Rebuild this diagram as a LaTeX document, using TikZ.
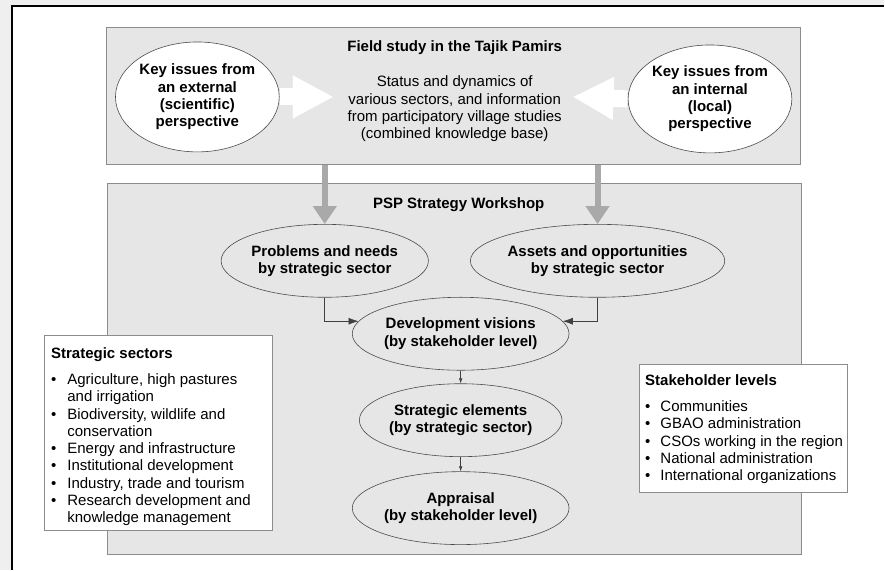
\documentclass[tikz,border=0pt]{standalone}
\usepackage{fontspec}
\setmainfont{Liberation Sans}
\usetikzlibrary{shapes.geometric,arrows.meta}
\definecolor{pagegray}{HTML}{EFEFEF}
\definecolor{panelgray}{HTML}{E6E6E6}
\definecolor{edgegray}{HTML}{8C8C8C}
\definecolor{flowgray}{HTML}{A9A9A9}
\newcommand{\txt}{\fontsize{15}{17.3}\selectfont}
\begin{document}
\begin{tikzpicture}[x=1pt,y=-1pt,font=\txt,
  panel/.style={draw=edgegray,fill=panelgray,line width=0.9pt,inner sep=0pt,anchor=north west},
  listbox/.style={draw=edgegray,fill=white,line width=0.9pt,inner sep=0pt,anchor=north west},
  issue/.style={ellipse,draw=black!70,fill=white,line width=0.6pt,inner sep=0pt,align=center,font=\txt\bfseries},
  stage/.style={ellipse,draw=black!70,line width=0.6pt,inner sep=0pt,align=center,font=\txt\bfseries,minimum height=73pt},
  feed/.style={draw=white,line width=17pt,shorten <=0.5pt,-{Triangle[length=41pt,width=40pt]}},
  drop/.style={draw=flowgray,line width=6pt,-{Triangle[length=18pt,width=23pt]}},
  link/.style={draw=black!75,line width=0.6pt,-{Latex[length=10pt,width=7pt]}},
  chain/.style={draw=black!75,line width=0.6pt,-{Latex[length=5pt,width=3.5pt]}}]

  \fill[pagegray] (0,0) rectangle (885,570);
  \fill[white] (12,6) rectangle (885,570);
  \draw[line width=1.3pt] (12,570) -- (12,6) -- (885,6);

  \node[panel,minimum width=695pt,minimum height=137pt] (field) at (106,27) {};
  \node[panel,minimum width=695pt,minimum height=371pt] (workshop) at (107,183) {};

  \node[font=\txt\bfseries] (fieldtitle) at (455,48) {Field study in the Tajik Pamirs};
  \node[align=center] (fieldtext) at (455,109) {Status and dynamics of\\various sectors, and information\\from participatory village studies\\(combined knowledge base)};
  \node[issue,minimum width=145pt,minimum height=110pt] (extern) at (197.5,97) {Key issues from\\an external\\(scientific)\\perspective};
  \node[issue,minimum width=145pt,minimum height=108pt] (intern) at (710.5,99) {Key issues from\\an internal\\(local)\\perspective};
  \coordinate (externtip) at (334,97);
  \coordinate (interntip) at (573,97);
  \draw[feed] (extern.east) -- (externtip);
  \draw[feed] (intern.west) -- (interntip);

  \node[font=\txt\bfseries] (workshoptitle) at (459,205) {PSP Strategy Workshop};
  \node[stage,minimum width=200pt] (problems) at (325,261) {Problems and needs\\by strategic sector};
  \node[stage,minimum width=214pt] (assets) at (598,261) {Assets and opportunities\\by strategic sector};
  \node[stage,minimum width=198pt] (dev) at (461,334) {Development visions\\(by stakeholder level)};
  \node[stage,minimum width=198pt] (elements) at (461,420.5) {Strategic elements\\(by strategic sector)};
  \node[stage,minimum width=212pt] (appraisal) at (461,508.5) {Appraisal\\(by stakeholder level)};

  \foreach \n in {problems,assets} {
   \draw[drop] (field.south -| \n.north) -- (\n.north);
  }
  \draw[link] (problems.south) |- (dev.173);
  \draw[link] (assets.south) |- (dev.7);
  \foreach \a/\b in {dev/elements,elements/appraisal} {
   \draw[chain] (\a) -- (\b);
  }

  \node[listbox,minimum width=228pt,minimum height=195pt] (sectors) at (44,335) {};
  \node[anchor=north west,inner sep=0pt] (sectorslist) at ([shift={(7,11.5)}]sectors.north west) {%
   \begin{tabular}{@{}l@{\hspace{11pt}}l@{}}
    \multicolumn{2}{@{}l}{\bfseries Strategic sectors}\\[8.7pt]
    \textbullet & Agriculture, high pastures\\
     & and irrigation\\
    \textbullet & Biodiversity, wildlife and\\
     & conservation\\
    \textbullet & Energy and infrastructure\\
    \textbullet & Institutional development\\
    \textbullet & Industry, trade and tourism\\
    \textbullet & Research development and\\
     & knowledge management
   \end{tabular}};

  \node[listbox,minimum width=209pt,minimum height=128pt] (levels) at (639,364) {};
  \node[anchor=north west,inner sep=0pt] (levelslist) at ([shift={(6.5,9.5)}]levels.north west) {%
   \begin{tabular}{@{}l@{\hspace{10pt}}l@{}}
    \multicolumn{2}{@{}l}{\bfseries Stakeholder levels}\\[8.7pt]
    \textbullet & Communities\\
    \textbullet & GBAO administration\\
    \textbullet & CSOs working in the region\\
    \textbullet & National administration\\
    \textbullet & International organizations
   \end{tabular}};
 \end{tikzpicture}
\end{document}
